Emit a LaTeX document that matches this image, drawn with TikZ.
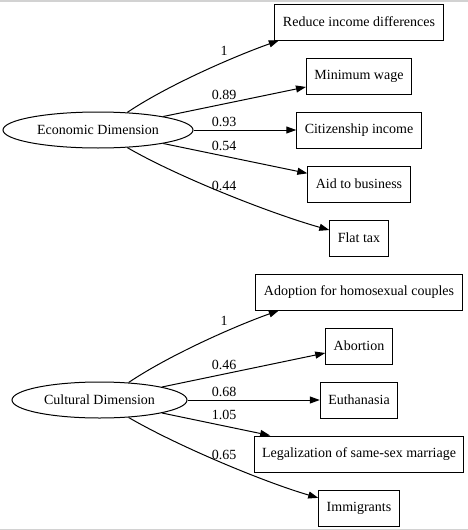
\documentclass[tikz,border=0pt]{standalone}
\usepackage{fontspec}
\setmainfont{Liberation Serif}
\usetikzlibrary{arrows.meta,shapes.geometric,positioning}

\begin{document}
\begin{tikzpicture}[x=1pt,y=-1pt,node distance={54pt},
    every node/.style={font=\fontsize{14}{16}\selectfont},
    item/.style={draw,rectangle,minimum height=36pt,minimum width=54pt,inner xsep=8pt,line width=1pt},
    factor/.style={draw,ellipse,minimum height=36pt,inner sep=0pt,line width=1pt},
    load/.style={anchor=base},
    >={Triangle[length=10pt,width=7pt]}]
    \useasboundingbox (0,0) rectangle (468,530);
    \fill[gray!35] (0,0) rectangle (468,1.5);
    \fill[gray!35] (0,528.5) rectangle (468,530);
    % latent factors
    \node[factor,minimum width=190pt] (eco) at (98,130) {Economic Dimension};
    \node[factor,minimum width=175pt] (cul) at (99.5,400) {Cultural Dimension};
    % indicators
    \node[item] (1) at (359,22) {Reduce income differences};
    \node[item] (2) [below of=1] {Minimum wage};
    \node[item] (3) [below of=2] {Citizenship income};
    \node[item] (4) [below of=3] {Aid to business};
    \node[item] (5) [below of=4] {Flat tax};
    \node[item] (6) [below of=5] {Adoption for homosexual couples};
    \node[item] (7) [below of=6] {Abortion};
    \node[item] (8) [below of=7] {Euthanasia};
    \node[item] (9) [below of=8] {Legalization of same-sex marriage};
    \node[item] (10) [below of=9] {Immigrants};
    % loadings
    \foreach \n/\y/\t in {w1/55/1, w2/99/0.89, w3/126.5/0.93, w4/150.5/0.54, w5/190.5/0.44,
        w6/325/1, w7/369/0.46, w8/396/0.68, w9/419/1.05, w10/459.3/0.65}
        {\node[load] (\n) at (224,\y) {\t};}
\begin{scope}[line width=1pt,->]
    \draw (eco.31) .. controls +(40,-27) and +(-45,16) .. (1.193);
    \draw (eco) -- (2);
    \draw (eco) -- (3);
    \draw (eco) -- (4);
    \draw (eco.-31) .. controls +(50,29) and +(-60,-17) .. (5.165);
    \draw (cul.31) .. controls +(40,-27) and +(-45,16) .. (6.193);
    \draw (cul) -- (7);
    \draw (cul) -- (8);
    \draw (cul) -- (9);
    \draw (cul.-31) .. controls +(48,28) and +(-55,-16) .. (10.166);
\end{scope}
\end{tikzpicture}
\end{document}
